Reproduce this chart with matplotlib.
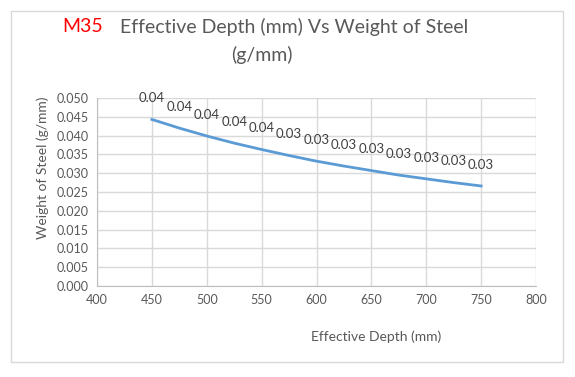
import matplotlib.pyplot as plt
from matplotlib.patches import Rectangle

# data
depth = [450, 475, 500, 525, 550, 575, 600, 625, 650, 675, 700, 725, 750]
weight = [0.0443, 0.0420, 0.0399, 0.0380, 0.0363, 0.0347, 0.0332,
          0.0319, 0.0307, 0.0295, 0.0285, 0.0275, 0.0266]
xticks = [400, 450, 500, 550, 600, 650, 700, 750, 800]
yticks = [0.000, 0.005, 0.010, 0.015, 0.020, 0.025, 0.030, 0.035, 0.040, 0.045, 0.050]

plt.rcParams['font.family'] = ['Lato', 'DejaVu Sans']
txt_col = '#595959'
grid_col = '#d9d9d9'

W, H = 575, 377
fig = plt.figure(figsize=(W / 100, H / 100), dpi=100)

# outer chart border
fig.patches.append(Rectangle((11 / W, 1 - 362 / H), 552 / W, 351 / H,
                             transform=fig.transFigure, fill=False,
                             edgecolor='#d9d9d9', linewidth=1))

ax = fig.add_axes([97 / W, 1 - 286 / H, 439 / W, 188 / H])
ax.plot(depth, weight, color='#5b9bd5', linewidth=2)

for x, y in zip(depth, weight):
    ax.annotate('%.2f' % y, (x, y), xytext=(0, 11), textcoords='offset points',
                ha='center', va='bottom', fontsize=9.5, color='#404040')

ax.set_xlim(400, 800)
ax.set_ylim(0, 0.05)
ax.set_xticks(xticks)
ax.set_yticks(yticks)
ax.set_yticklabels(['%.3f' % v for v in yticks])
ax.grid(True, color=grid_col, linewidth=1)
ax.set_axisbelow(True)
for s in ['top', 'right']:
    ax.spines[s].set_visible(False)
for s in ['left', 'bottom']:
    ax.spines[s].set_color('#bfbfbf')
ax.tick_params(length=0, labelsize=9, colors=txt_col, pad=6)

fig.text(43 / W, 1 - 168 / H, 'Weight of Steel (g/mm)', fontsize=10,
         color=txt_col, rotation=90, ha='center', va='center')
fig.text(376 / W, 1 - 337 / H, 'Effective Depth (mm)', fontsize=10,
         color=txt_col, ha='center', va='center')

# title
fig.text(62 / W, 1 - 27 / H, 'M35', fontsize=14, color='red', va='center')
fig.text(120 / W, 1 - 27 / H, 'Effective Depth (mm) Vs Weight of Steel',
         fontsize=14, color=txt_col, va='center')
fig.text(262 / W, 1 - 55 / H, '(g/mm)', fontsize=14, color=txt_col,
         ha='center', va='center')

fig.savefig('out.png', dpi=100)
